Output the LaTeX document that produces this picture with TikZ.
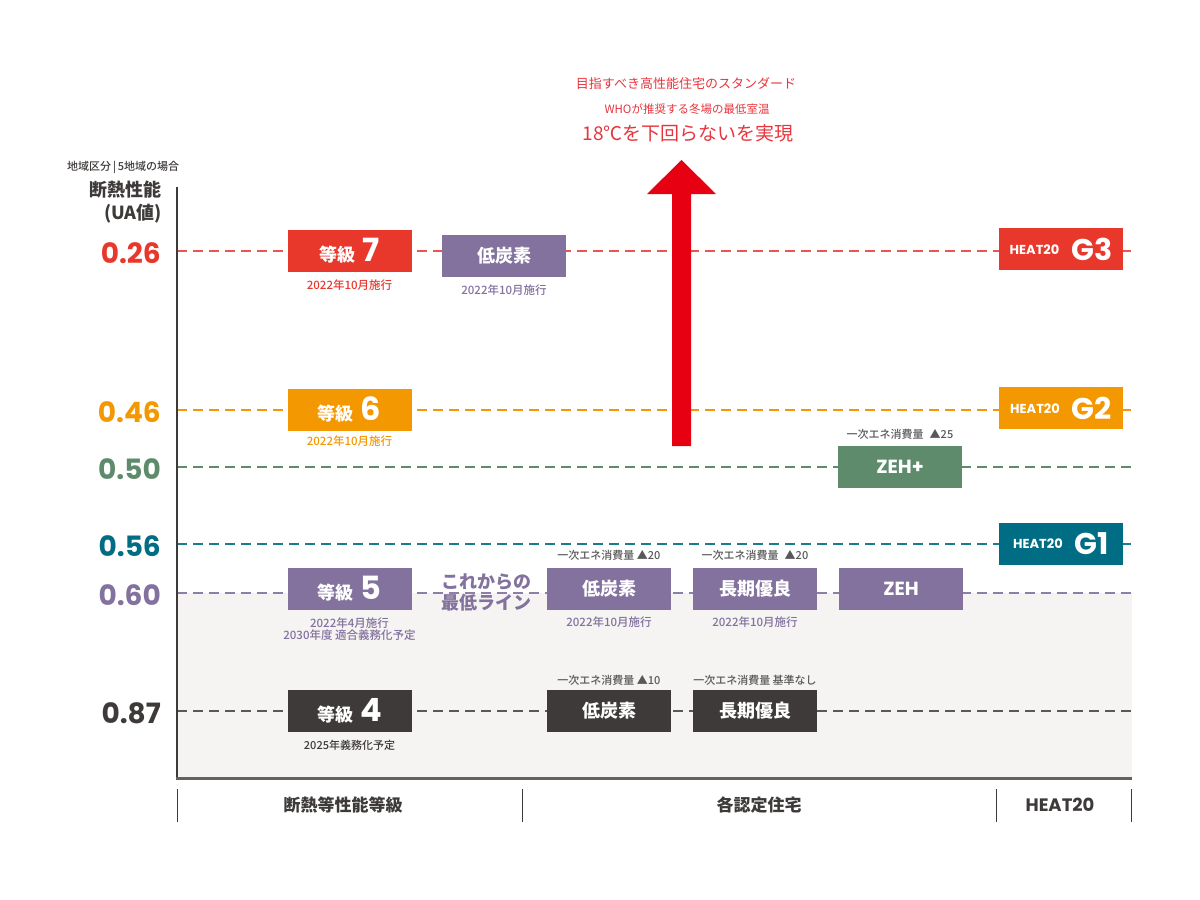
\documentclass[tikz,border=0pt]{standalone}
\usepackage{fontspec}
\setmainfont{Noto Sans CJK JP}
\newfontfamily\medf{Noto Sans CJK JP Medium}
\newfontfamily\numf{Poppins}
\newcommand\fsz[1]{\fontsize{#1}{#1}\selectfont}
\definecolor{cred}{HTML}{E8382C}
\definecolor{cora}{HTML}{F39800}
\definecolor{cgrn}{HTML}{5F8B6D}
\definecolor{cteal}{HTML}{006D85}
\definecolor{cpur}{HTML}{83719E}
\definecolor{cdark}{HTML}{3E3A39}
\definecolor{carrow}{HTML}{E60012}
\definecolor{ctop}{HTML}{E8343C}
\definecolor{cbg}{HTML}{F5F4F2}
\definecolor{cgray}{HTML}{595757}
\newcommand\heatlab[1]{\raisebox{6pt}{\numf\fsz{13}HEAT20}\hspace{12pt}{\numf\fsz{30}#1}}
\tikzset{
  box/.style={fill=#1, text=white, minimum width=124pt, minimum height=42pt, inner sep=0pt, font=\bfseries\fsz{18}},
  sub/.style={text=#1, inner sep=0pt, font=\medf\fsz{11.5}, align=center},
  ann/.style={text=cgray, inner sep=0pt, font=\medf\fsz{11}},
  val/.style={text=#1, anchor=east, inner sep=0pt, font=\numf\bfseries\fsz{28}},
  level/.style={draw=#1, line width=1.5pt, dash pattern=on 10pt off 6pt},
  bottomlab/.style={text=cdark, inner sep=0pt, font=\bfseries\fsz{17}},
  tick/.style={draw=cdark, line width=1pt}
}
\begin{document}
\begin{tikzpicture}[x=1pt,y=-1pt]
\useasboundingbox (0,0) rectangle (1200,900);
% background
\fill[cbg] (177,593) rectangle (1132,778);
% level lines
\draw[level=cred!85] (177,251) -- (1132,251);
\draw[level=cora] (177,410) -- (1132,410);
\draw[level=cgrn] (177,467) -- (1132,467);
\draw[level=cteal!90] (177,544) -- (1132,544);
\draw[level=cpur!90] (177,593) -- (1132,593);
\draw[level=cdark!85] (177,711) -- (1132,711);
% axes
\draw[cdark, line width=2pt] (177,187) -- (177,779);
\draw[cdark!80, line width=3pt] (176,778) -- (1132,778);
% axis titles
\node[anchor=west, inner sep=0pt, text=cdark, font=\medf\fsz{11}] (region) at (67,167) {地域区分\,|\,5地域の場合};
\node[anchor=east, inner sep=0pt, text=cdark, font=\bfseries\fsz{18}] (ua1) at (162,190) {断熱性能};
\node[anchor=east, inner sep=0pt, text=cdark, font=\bfseries\fsz{18}] (ua2) at (162,214) {(UA値)};
% values
\node[val=cred] (v26) at (161,253) {0.26};
\node[val=cora] (v46) at (161,412) {0.46};
\node[val=cgrn] (v50) at (161,469) {0.50};
\node[val=cteal] (v56) at (161,546) {0.56};
\node[val=cpur] (v60) at (161,595) {0.60};
\node[val=cdark] (v87) at (161,713) {0.87};
% grade boxes
\node[box=cred] (g7) at (349.5,251) {等級\hspace{7pt}{\numf\fsz{32}7}};
\node[sub=cred] (g7s) at (349.5,285) {2022年10月施行};
\node[box=cora] (g6) at (349.5,409.5) {等級\hspace{7pt}{\numf\fsz{32}6}};
\node[sub=cora] (g6s) at (349.5,441) {2022年10月施行};
\node[box=cpur] (g5) at (349.5,589) {等級\hspace{7pt}{\numf\fsz{32}5}};
\node[sub=cpur] (g5s) at (349.5,629) {2022年4月施行\\2030年度 適合義務化予定};
\node[box=cdark] (g4) at (349.5,711) {等級\hspace{7pt}{\numf\fsz{32}4}};
\node[sub=cdark, font=\medf\fsz{11}] (g4s) at (349.5,745) {2025年義務化予定};
% minimum line text
\node[text=cpur, inner sep=0pt, font=\bfseries\fsz{18}, align=left] (minline) at (486,592) {これからの\\[3pt]最低ライン};
% certified houses
\node[box=cpur] (lc7) at (504,256) {低炭素};
\node[sub=cpur] (lc7s) at (504,290) {2022年10月施行};
\node[box=cpur] (lc5) at (609,589) {低炭素};
\node[ann] (lc5a) at (609,555) {一次エネ消費量 ▲20};
\node[sub=cpur] (lc5s) at (609,622) {2022年10月施行};
\node[box=cpur] (ch5) at (755,589) {長期優良};
\node[ann] (ch5a) at (755,555) {一次エネ消費量\hspace{6pt}▲20};
\node[sub=cpur] (ch5s) at (755,622) {2022年10月施行};
\node[box=cpur, font=\numf\bfseries\fsz{19}] (zeh) at (901,589) {ZEH};
\node[box=cgrn, font=\numf\bfseries\fsz{19}] (zehp) at (900,466.5) {ZEH+};
\node[ann] (zehpa) at (900,434) {一次エネ消費量\hspace{6pt}▲25};
\node[box=cdark] (lc4) at (609,711) {低炭素};
\node[ann] (lc4a) at (609,680) {一次エネ消費量 ▲10};
\node[box=cdark] (ch4) at (755,711) {長期優良};
\node[ann] (ch4a) at (755,680) {一次エネ消費量 基準なし};
% HEAT20
\node[box=cred] (h3) at (1061,249) {\heatlab{G3}};
\node[box=cora] (h2) at (1061,408) {\heatlab{G2}};
\node[box=cteal] (h1) at (1061,544) {\heatlab{G1}};
% red arrow
\fill[carrow] (672,446) -- (672,194) -- (647,194) -- (681.5,160) -- (716,194) -- (691,194) -- (691,446) -- cycle;
\node[text=ctop, inner sep=0pt, font=\fsz{13}] (t1) at (686,84) {目指すべき高性能住宅のスタンダード};
\node[text=ctop, inner sep=0pt, font=\fsz{11.5}] (t2) at (687,109) {WHOが推奨する冬場の最低室温};
\node[text=ctop, inner sep=0pt, font=\fsz{19}] (t3) at (688,133) {18℃を下回らないを実現};
% bottom categories
\draw[tick] (177,789) -- (177,822);
\draw[tick] (522,789) -- (522,822);
\draw[tick] (996,789) -- (996,822);
\draw[tick] (1131,789) -- (1131,822);
\node[bottomlab] (c1) at (343,805) {断熱等性能等級};
\node[bottomlab] (c2) at (759,805) {各認定住宅};
\node[bottomlab, font=\numf\bfseries\fsz{18}] (c3) at (1060,805) {HEAT20};
\end{tikzpicture}
\end{document}
